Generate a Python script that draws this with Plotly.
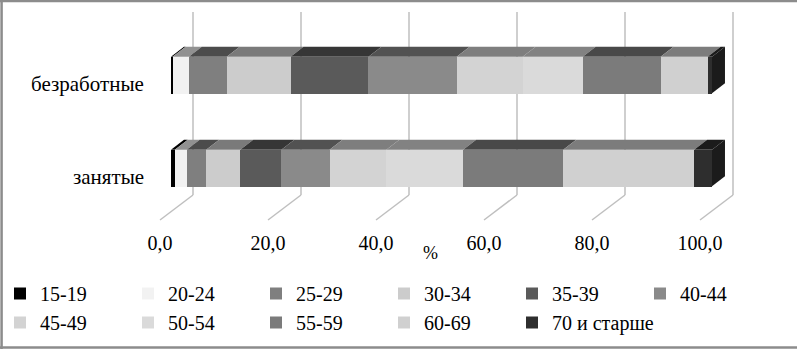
import plotly.graph_objects as go

# ---------------- data ----------------
categories = ["занятые", "безработные"]
age_groups = ["15-19", "20-24", "25-29", "30-34", "35-39", "40-44",
              "45-49", "50-54", "55-59", "60-69", "70 и старше"]
employed = [0.7, 2.2, 3.6, 6.3, 7.6, 8.9, 10.5, 14.2, 18.5, 24.2, 3.3]
unemployed = [0.3, 3.0, 7.0, 11.8, 14.4, 16.3, 12.2, 11.1, 14.4, 8.7, 0.8]
tick_vals = [0, 20, 40, 60, 80, 100]
axis_title = "%"

# ---------------- style ----------------
colors = ["#000000", "#f2f2f2", "#7f7f7f", "#cccccc", "#5a5a5a", "#8a8a8a",
          "#d3d3d3", "#dadada", "#7b7b7b", "#d0d0d0", "#2e2e2e"]
FONT = "Liberation Serif"
W, H = 797, 349
BAR_W = 0.39
DX, DY = 2.4, 0.1075      # depth offset in data units (x %, y category)
GRID = "#bfbfbf"


def shade(hexcol, f=0.6):
    r, g, b = (int(hexcol[i:i + 2], 16) for i in (1, 3, 5))
    return "#%02x%02x%02x" % (int(r * f), int(g * f), int(b * f))


def fx(px):
    return px / W


def fy(px):
    return 1 - px / H


fig = go.Figure()
series = {"занятые": employed, "безработные": unemployed}
for i, grp in enumerate(age_groups):
    fig.add_trace(go.Bar(
        y=categories,
        x=[series[c][i] for c in categories],
        name=grp, orientation="h",
        marker=dict(color=colors[i], line=dict(width=0)),
        width=BAR_W, xaxis="x", yaxis="y",
    ))

# axis domains (paper fractions)
x_front = [fx(171), fx(171 + 5.41 * 105)]
x_back = [fx(193), fx(733)]
x_floor = [fx(160), fx(700)]
y_bars = [fy(214.5), fy(28.5)]
y_back = [fy(195), fy(12)]
y_floor_bottom = fy(220)


def lin(dom, v, lo=0, hi=100):
    return dom[0] + (dom[1] - dom[0]) * (v - lo) / (hi - lo)


shapes = []
# back-wall gridlines and floor diagonals
for v in tick_vals:
    shapes.append(dict(type="line", xref="paper", yref="paper",
                       x0=lin(x_back, v), y0=y_back[0],
                       x1=lin(x_back, v), y1=y_back[1],
                       line=dict(color=GRID, width=1.5), layer="below"))
    shapes.append(dict(type="line", xref="paper", yref="paper",
                       x0=lin(x_back, v), y0=y_back[0],
                       x1=lin(x_floor, v), y1=y_floor_bottom,
                       line=dict(color=GRID, width=1.5), layer="below"))

# 3D faces derived from the data
for ci, c in enumerate(categories):
    vals = series[c]
    yt = ci + BAR_W / 2
    yb = ci - BAR_W / 2
    left = 0.0
    for i, v in enumerate(vals):
        right = left + v
        path = (f"M {left},{yt} L {right},{yt} L {right + DX},{yt + DY} "
                f"L {left + DX},{yt + DY} Z")
        shapes.append(dict(type="path", path=path, xref="x", yref="y",
                           fillcolor=shade(colors[i]), line=dict(width=0),
                           layer="above"))
        left = right
    path = (f"M {left},{yb} L {left},{yt} L {left + DX},{yt + DY} "
            f"L {left + DX},{yb + DY} Z")
    shapes.append(dict(type="path", path=path, xref="x", yref="y",
                       fillcolor=shade(colors[-1]), line=dict(width=0),
                       layer="above"))

# chart border
for (x0, y0, x1, y1) in [(0.002, 0, 0.002, 1), (0, 0.997, 1, 0.997),
                         (0, fy(347.5), 1, fy(347.5))]:
    shapes.append(dict(type="line", xref="paper", yref="paper",
                       x0=x0, y0=y0, x1=x1, y1=y1,
                       line=dict(color="#8c8c8c", width=2.5)))

# category labels (placed through the category axis)
annotations = [dict(text=c, x=x_front[0], y=c, xref="paper", yref="y",
                    xanchor="right", yanchor="middle", xshift=-25, yshift=-9,
                    showarrow=False,
                    font=dict(family=FONT, size=21, color="black"))
               for c in categories]
annotations.append(dict(text=axis_title, x=50, y=fy(253),
                        xref="x3", yref="paper", showarrow=False,
                        xanchor="center", yanchor="middle",
                        font=dict(family=FONT, size=18, color="black")))

fig.update_layout(
    width=W, height=H,
    margin=dict(l=0, r=0, t=0, b=0, autoexpand=False),
    paper_bgcolor="white", plot_bgcolor="rgba(0,0,0,0)",
    barmode="stack", bargap=0,
    separators=", ",
    font=dict(family=FONT, size=20, color="black"),
    showlegend=True,
    legend=dict(orientation="h", x=0.0, xanchor="left",
                y=fy(274), yanchor="top",
                entrywidth=83, entrywidthmode="pixels",
                font=dict(family=FONT, size=20, color="black"),
                bgcolor="rgba(0,0,0,0)", traceorder="normal"),
    xaxis=dict(domain=x_front, range=[0, 105], anchor="y",
               showgrid=False, zeroline=False, showline=False,
               showticklabels=False, ticks=""),
    yaxis=dict(domain=y_bars, range=[-0.5, 1.5], anchor="x",
               type="category", categoryorder="array",
               categoryarray=categories, showticklabels=False,
               showgrid=False, zeroline=False, showline=False, ticks=""),
    xaxis3=dict(domain=x_floor, range=[0, 100], anchor="y3",
                tickvals=tick_vals, tickformat=".1f",
                showgrid=False, zeroline=False, showline=False, ticks="",
                tickfont=dict(family=FONT, size=20, color="black")),
    yaxis3=dict(domain=[fy(229), fy(228)], range=[0, 1],
                anchor="x3", visible=False),
    shapes=shapes,
    annotations=annotations,
)

fig.write_html(
    "out.html",
    config={"displayModeBar": False},
    post_script=("document.body.style.margin='0';"
                 "document.body.style.overflow='hidden';"
                 "document.documentElement.style.overflow='hidden';"),
)
